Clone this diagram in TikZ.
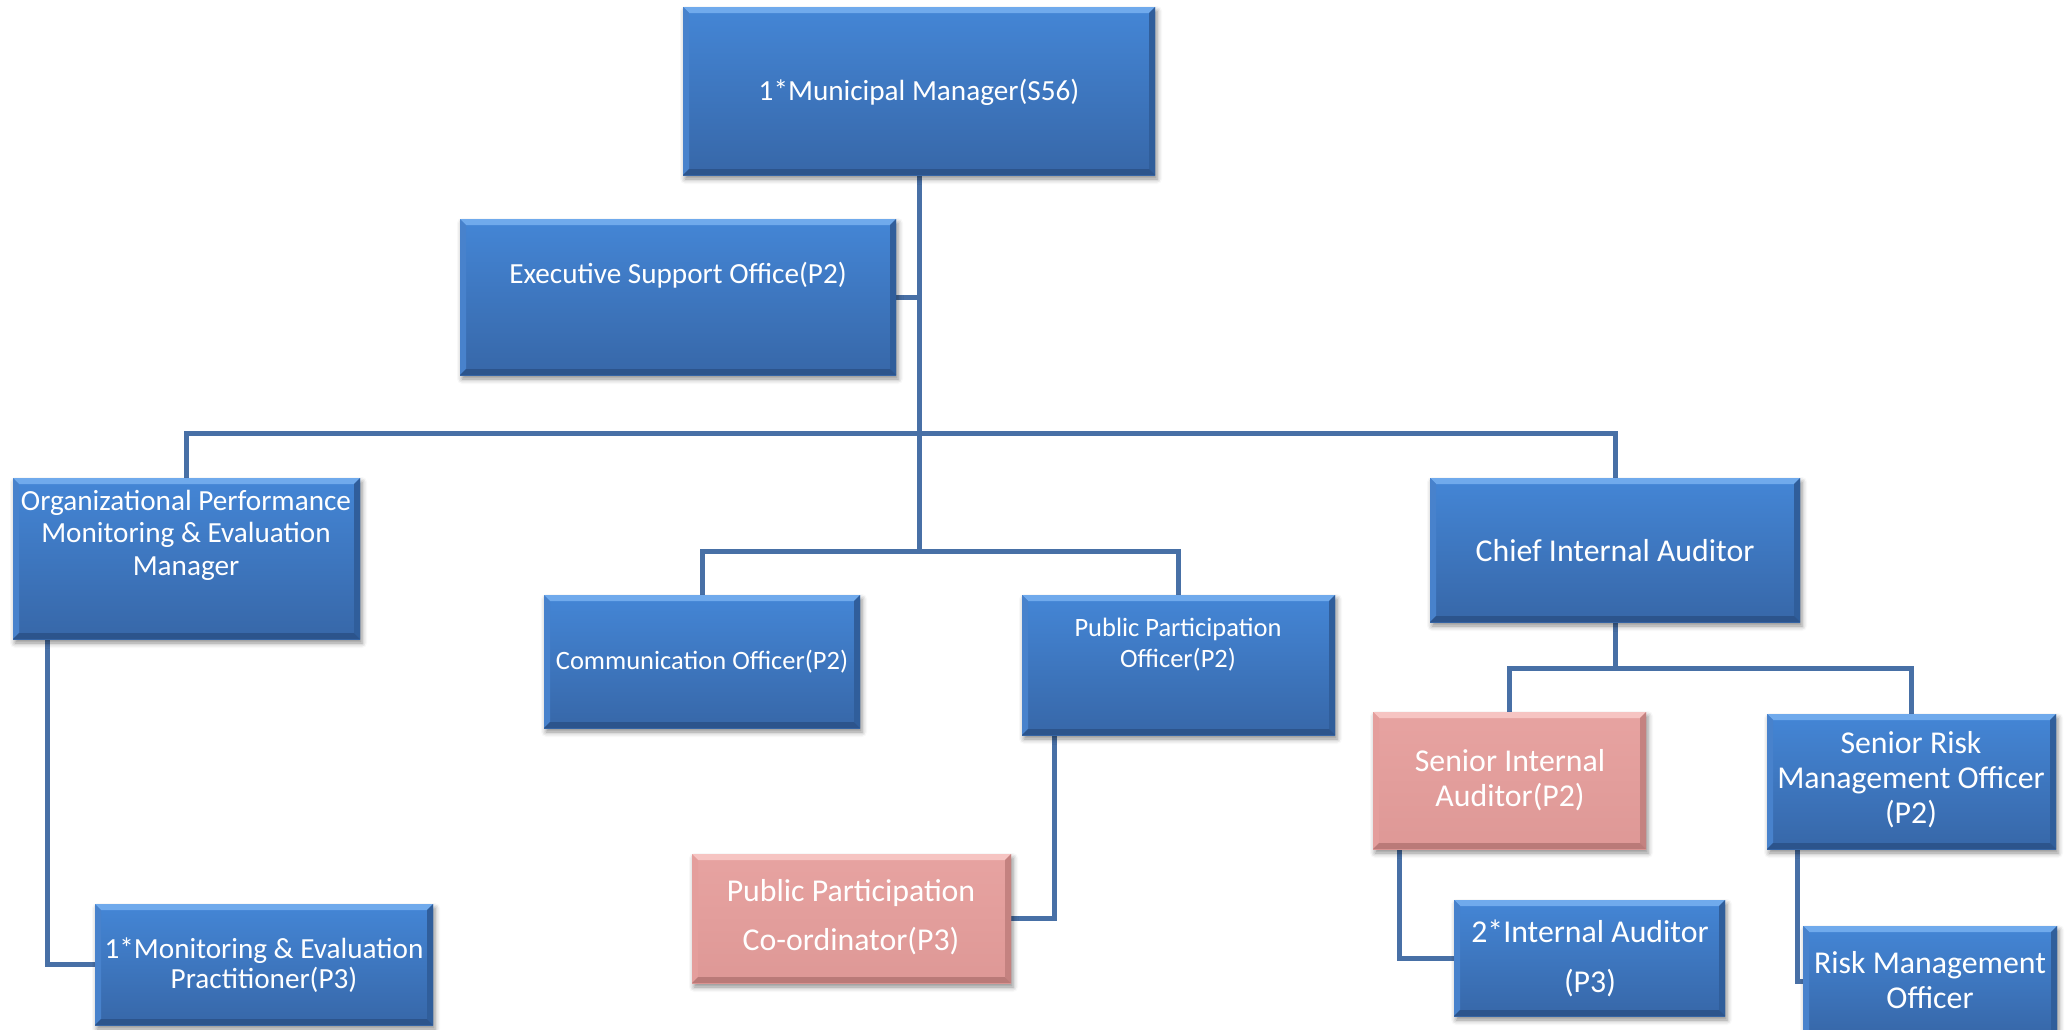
\documentclass[tikz,border=0pt]{standalone}
\usepackage{fontspec}
\setmainfont{Carlito}
\usetikzlibrary{fit,backgrounds,shadows.blur}

% face and bevel colours
\definecolor{faceblueT}{RGB}{68,134,214}
\definecolor{faceblueB}{RGB}{55,103,168}
\definecolor{bevblueT}{RGB}{112,170,236}
\definecolor{bevblueL}{RGB}{72,130,204}
\definecolor{bevblueR}{RGB}{48,94,155}
\definecolor{bevblueB}{RGB}{44,84,140}
\definecolor{facepinkT}{RGB}{231,163,161}
\definecolor{facepinkB}{RGB}{222,152,150}
\definecolor{bevpinkT}{RGB}{246,196,194}
\definecolor{bevpinkL}{RGB}{228,158,156}
\definecolor{bevpinkR}{RGB}{196,130,128}
\definecolor{bevpinkB}{RGB}{186,122,120}
\definecolor{linkcol}{RGB}{72,112,166}

\def\bevw{3pt}
% four bevel faces of a box: top, left, right, bottom
\newcommand{\bevelfaces}[4]{%
  \fill[#1] (path picture bounding box.north west) -- (path picture bounding box.north east)
    -- ([xshift=-\bevw,yshift=-\bevw]path picture bounding box.north east)
    -- ([xshift=\bevw,yshift=-\bevw]path picture bounding box.north west) -- cycle;
  \fill[#2] (path picture bounding box.north west) -- (path picture bounding box.south west)
    -- ([xshift=\bevw,yshift=\bevw]path picture bounding box.south west)
    -- ([xshift=\bevw,yshift=-\bevw]path picture bounding box.north west) -- cycle;
  \fill[#3] (path picture bounding box.north east) -- (path picture bounding box.south east)
    -- ([xshift=-\bevw,yshift=\bevw]path picture bounding box.south east)
    -- ([xshift=-\bevw,yshift=-\bevw]path picture bounding box.north east) -- cycle;
  \fill[#4] (path picture bounding box.south west) -- (path picture bounding box.south east)
    -- ([xshift=-\bevw,yshift=\bevw]path picture bounding box.south east)
    -- ([xshift=\bevw,yshift=\bevw]path picture bounding box.south west) -- cycle;
}

\tikzset{
  box/.style={inner sep=0pt, outer sep=0pt,
    blur shadow={shadow xshift=1pt, shadow yshift=-2pt, shadow blur radius=2.5pt, shadow opacity=45}},
  bluebox/.style={box, top color=faceblueT, bottom color=faceblueB,
    path picture={\bevelfaces{bevblueT}{bevblueL}{bevblueR}{bevblueB}}},
  pinkbox/.style={box, top color=facepinkT, bottom color=facepinkB,
    path picture={\bevelfaces{bevpinkT}{bevpinkL}{bevpinkR}{bevpinkB}}},
  lbl/.style={text=white, align=center, inner sep=0pt},
  tsmall/.style={lbl, font=\fontsize{13.25}{15.5}\selectfont},
  tmid/.style={lbl, font=\fontsize{14.6}{16.3}\selectfont},
  tlarge/.style={lbl, font=\fontsize{15.9}{17.5}\selectfont},
  link/.style={draw=linkcol, line width=2.5pt},
}

\begin{document}
\begin{tikzpicture}[x=0.5pt,y=-0.5pt]
\useasboundingbox (0,0) rectangle (2065,1029);

% boxes
\node[bluebox, fit={(683,7)(1155,175)}]     (mm)   {};
\node[bluebox, fit={(460,219)(896,375)}]    (exec) {};
\node[bluebox, fit={(13,478)(360,639)}]     (org)  {};
\node[bluebox, fit={(544,595)(860,728)}]    (comm) {};
\node[bluebox, fit={(1022,595)(1335,735)}]  (ppo)  {};
\node[bluebox, fit={(1430,478)(1800,622)}]  (cia)  {};
\node[pinkbox, fit={(1373,712)(1646,849)}]  (sia)  {};
\node[bluebox, fit={(1767,714)(2056,849)}]  (srmo) {};
\node[bluebox, fit={(1454,900)(1725,1016)}] (ia)   {};
\node[bluebox, fit={(1803,926)(2057,1036)}] (rmo)  {};
\node[pinkbox, fit={(692,854)(1011,983)}]   (ppc)  {};
\node[bluebox, fit={(95,904)(433,1025)}]    (mon)  {};

% labels
\node[tmid]   (mm-t)   at (919,92)   {1*Municipal Manager(S56)};
\node[tmid]   (exec-t) at (678,275)  {Executive Support Office(P2)};
\node[tmid]   (org-t)  at (186,535)  {Organizational Performance\\Monitoring \& Evaluation\\Manager};
\node[tsmall] (comm-t) at (702,662)  {Communication Officer(P2)};
\node[tsmall] (ppo-t)  at (1178,645) {Public Participation\\Officer(P2)};
\node[tlarge] (cia-t)  at (1615,551) {Chief Internal Auditor};
\node[tlarge] (sia-t)  at (1510,780) {Senior Internal\\Auditor(P2)};
\node[tlarge] (srmo-t) at (1911,780) {Senior Risk\\Management Officer\\(P2)};
\node[tlarge, font=\fontsize{15.9}{25}\selectfont] (ia-t) at (1590,958) {2*Internal Auditor\\(P3)};
\node[tlarge] (rmo-t)  at (1930,980) {Risk Management\\Officer};
\node[tlarge, font=\fontsize{15.9}{24.5}\selectfont] (ppc-t) at (851,917) {Public Participation\\Co-ordinator(P3)};
\node[tmid, font=\fontsize{14.6}{15}\selectfont] (mon-t) at (264,965) {1*Monitoring \& Evaluation\\Practitioner(P3)};

% junction points of the connector buses
\coordinate (bus) at (919,433);
\coordinate (sub) at (919,551);
\coordinate (ciabus) at (1615,668);

% connectors
\begin{scope}[on background layer]
  \draw[link] (mm.south) -- (sub);
  \draw[link] (exec.east) -- (exec.east -| mm.south);
  \draw[link] (org.north) |- (bus) -| (cia.north);
  \draw[link] (comm.north) |- (sub) -| (ppo.north);
  \draw[link] (cia.south) -- (ciabus);
  \draw[link] (sia.north) |- (ciabus) -| (srmo.north);
  \draw[link] ([xshift=17pt]org.south west) |- (mon.west);
  \draw[link] ([xshift=16pt]ppo.south west) |- (ppc.east);
  \draw[link] ([xshift=13pt]sia.south west) |- (ia.west);
  \draw[link] ([xshift=15pt]srmo.south west) |- (rmo.west);
\end{scope}
\end{tikzpicture}
\end{document}
